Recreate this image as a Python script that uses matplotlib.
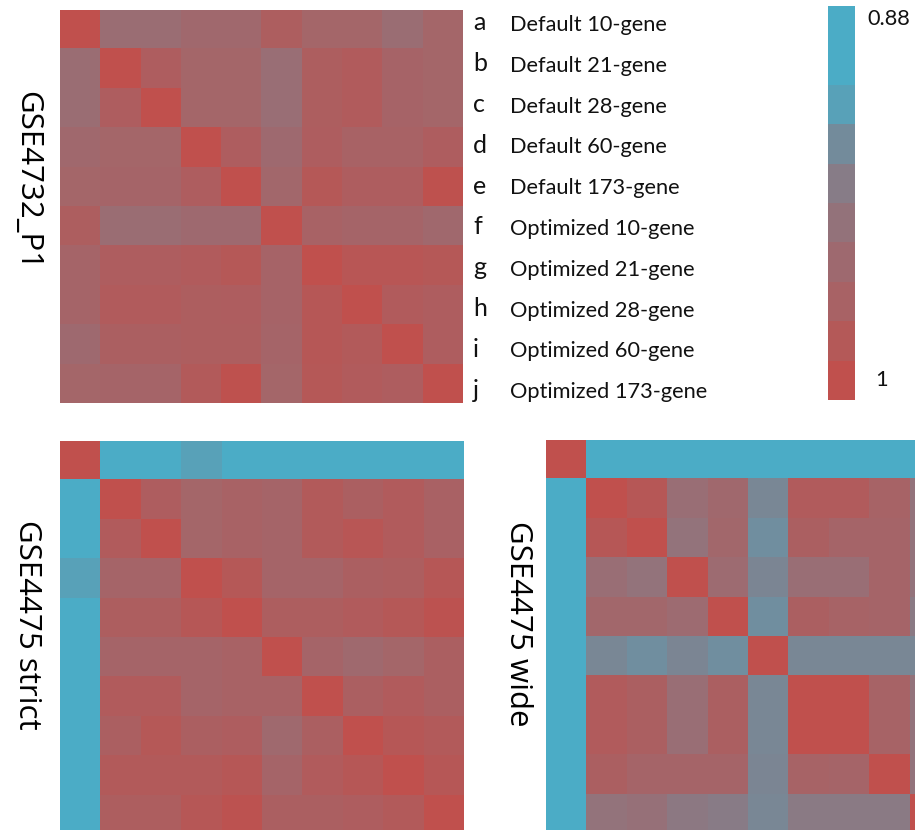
import numpy as np
import matplotlib
matplotlib.use("Agg")
import matplotlib.pyplot as plt
from matplotlib.colors import LinearSegmentedColormap

# Figure size in pixels (dpi 100)
W, H = 915, 830

# Data: pairwise agreement between signatures, scale 0.88 (blue) .. 1 (red)
row_letters = ['a', 'b', 'c', 'd', 'e', 'f', 'g', 'h', 'i', 'j']
row_names = ['Default 10-gene', 'Default 21-gene', 'Default 28-gene',
             'Default 60-gene', 'Default 173-gene', 'Optimized 10-gene',
             'Optimized 21-gene', 'Optimized 28-gene', 'Optimized 60-gene',
             'Optimized 173-gene']

gse4732_p1 = [
    [1.000, .962, .962, .968, .968, .981, .971, .971, .962, .971],
    [.962, 1.000, .982, .971, .971, .960, .981, .985, .974, .971],
    [.962, .982, 1.000, .971, .971, .960, .981, .985, .974, .971],
    [.968, .971, .971, 1.000, .982, .966, .982, .976, .976, .982],
    [.971, .973, .973, .982, 1.000, .970, .989, .982, .982, .998],
    [.981, .962, .962, .966, .966, 1.000, .976, .973, .973, .968],
    [.973, .982, .982, .985, .989, .974, 1.000, .992, .992, .989],
    [.973, .985, .985, .981, .982, .974, .990, 1.000, .985, .982],
    [.966, .979, .979, .981, .981, .973, .990, .986, 1.000, .982],
    [.971, .973, .973, .986, .998, .971, .989, .985, .982, 1.000],
]

gse4475_strict = [
    [1.000, .880, .880, .894, .880, .880, .880, .880, .880, .880],
    [.880, 1.000, .982, .971, .976, .973, .986, .979, .985, .977],
    [.880, .985, 1.000, .971, .976, .973, .986, .992, .985, .977],
    [.894, .973, .973, 1.000, .989, .973, .973, .979, .981, .990],
    [.880, .981, .981, .990, 1.000, .981, .981, .985, .989, .996],
    [.880, .973, .973, .973, .976, 1.000, .973, .967, .971, .979],
    [.880, .985, .985, .973, .976, .976, 1.000, .979, .985, .979],
    [.880, .979, .989, .979, .982, .967, .979, 1.000, .990, .986],
    [.880, .986, .986, .986, .990, .973, .985, .990, 1.000, .990],
    [.880, .981, .981, .990, .996, .979, .979, .982, .986, 1.000],
]

gse4475_wide = [
    [1.000, .880, .880, .880, .880, .880, .880, .880, .880, .880],
    [.880, 1.000, .990, .960, .968, .928, .985, .985, .975, .954],
    [.880, .990, 1.000, .954, .970, .918, .979, .973, .973, .954],
    [.880, .960, .954, 1.000, .964, .930, .960, .960, .973, .954],
    [.880, .970, .970, .964, 1.000, .918, .979, .975, .973, .945],
    [.880, .928, .918, .930, .918, 1.000, .928, .928, .928, .928],
    [.880, .985, .979, .960, .979, .928, 1.000, 1.000, .975, .954],
    [.880, .985, .979, .960, .979, .928, 1.000, 1.000, .975, .954],
    [.880, .979, .973, .973, .973, .930, .975, .973, 1.000, .954],
    [.880, .954, .957, .947, .943, .928, .945, .945, .945, 1.000],
]

# colour key steps, top to bottom
key_values = [0.88, 0.88, 0.894, 0.922, 0.942, 0.955, 0.966, 0.976, 0.988, 1.0]
key_ticks = ['0.88', '1']

VMIN, VMAX = 0.88, 1.0
cmap = LinearSegmentedColormap.from_list('blue_red', ['#4BACC6', '#C0504D'])

LABEL_FONT = ['Lato', 'DejaVu Sans']
TITLE_FONT = ['Open Sans', 'DejaVu Sans']


def px_axes(fig, x0, y0, x1, y1):
    """Add axes given a box in pixel coords (origin top-left)."""
    return fig.add_axes([x0 / W, 1 - y1 / H, (x1 - x0) / W, (y1 - y0) / H])


def draw_heatmap(fig, box, data):
    ax = px_axes(fig, *box)
    ax.imshow(np.array(data), cmap=cmap, vmin=VMIN, vmax=VMAX,
              aspect='auto', interpolation='nearest')
    ax.axis('off')
    return ax


fig = plt.figure(figsize=(W / 100, H / 100), dpi=100)
fig.patch.set_facecolor('white')

draw_heatmap(fig, (60, 10, 463, 403), gse4732_p1)
draw_heatmap(fig, (60, 441.5, 464, 834.5), gse4475_strict)
draw_heatmap(fig, (546, 440.5, 949, 833.5), gse4475_wide)

# panel titles (vertical)
fig.text(27 / W, 1 - 181 / H, 'GSE4732_P1', rotation=270, fontsize=22.5,
         family=TITLE_FONT, ha='center', va='center')
fig.text(27 / W, 1 - 625 / H, 'GSE4475 strict', rotation=270, fontsize=22.5,
         family=TITLE_FONT, ha='center', va='center')
fig.text(518 / W, 1 - 624 / H, 'GSE4475 wide', rotation=270, fontsize=22.5,
         family=TITLE_FONT, ha='center', va='center')

# row key: letters + signature names
for i, (letter, name) in enumerate(zip(row_letters, row_names)):
    y = 25 + 40.8 * i
    fig.text(473 / W, 1 - (y - 2) / H, letter, fontsize=18, family=LABEL_FONT,
             ha='left', va='center', color='#111111')
    fig.text(510 / W, 1 - y / H, name, fontsize=15.7, family=LABEL_FONT,
             ha='left', va='center', color='#111111')

# colour key
cax = px_axes(fig, 828, 6, 855, 400)
cax.imshow(np.array(key_values).reshape(-1, 1), cmap=cmap, vmin=VMIN, vmax=VMAX,
           aspect='auto', interpolation='nearest')
cax.axis('off')
fig.text(867 / W, 1 - 19 / H, key_ticks[0], fontsize=15.7, family=LABEL_FONT,
         ha='left', va='center', color='#111111')
fig.text(875 / W, 1 - 380 / H, key_ticks[1], fontsize=15.7, family=LABEL_FONT,
         ha='left', va='center', color='#111111')

fig.savefig('out.png', dpi=100)
